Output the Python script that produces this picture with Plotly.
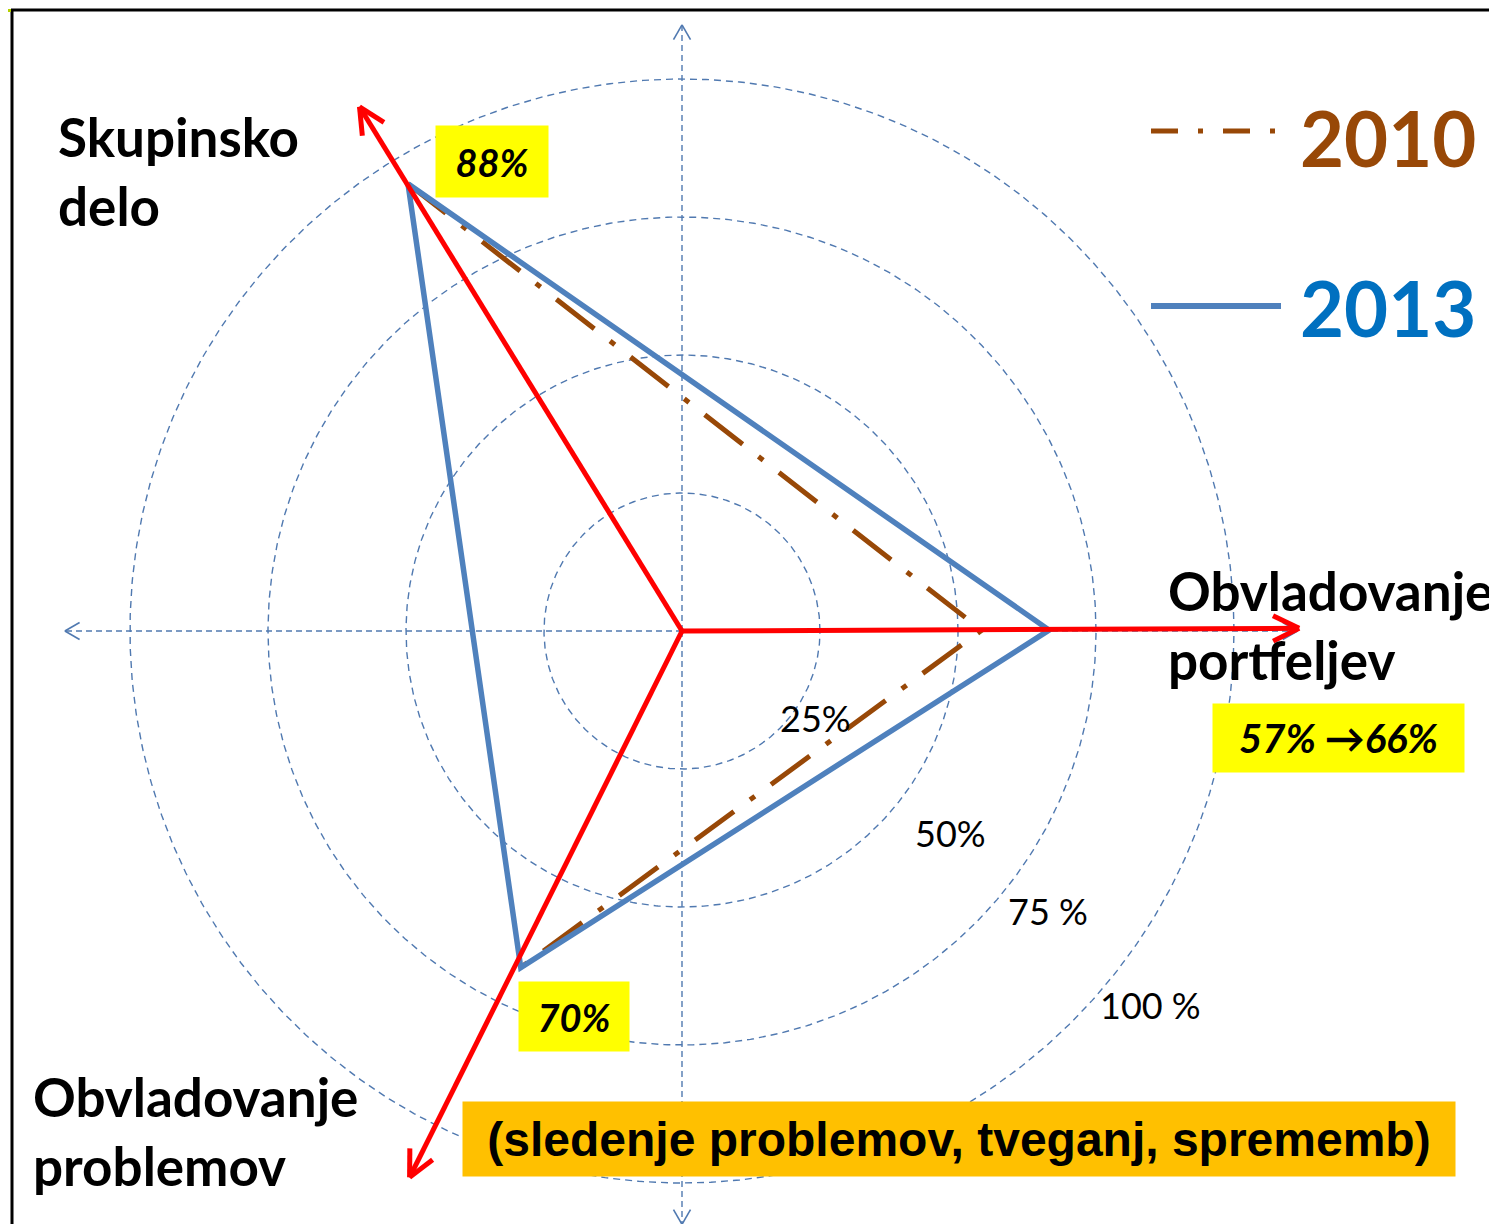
import numpy as np
import plotly.graph_objects as go

W, H = 1497, 1224          # target page size
OFF = 8                    # default page body margin
WF, HF = W - OFF, H - OFF  # figure size
CX, CY = 682, 631          # page pixel position of the chart centre
R100 = 552                 # pixels for 100 %

# ---------------- data ----------------
categories = ["Skupinsko delo", "Obvladovanje portfeljev", "Obvladovanje problemov"]
axis_theta = [121.6, 0.25, 243.5]      # direction of the red axis arrows (deg)
axis_len = [111.5, 111.8, 110.6]       # length of red axis arrows (%)
point_theta = [121.5, 0.15, 244.4]     # angular position of the data vertices (deg)
val_2010 = [95.0, 54.3, 67.6]
val_2013 = [95.0, 66.5, 67.6]
ring_values = [25, 50, 75, 100]
ring_labels = ["25%", "50%", "75 %", "100 %"]
ring_label_px = [(816, 718), (950, 833), (1048, 911), (1150, 1005)]
box_labels = ["88%", "57% \u219266%", "70%"]

BLUE = "#4f81bd"
BROWN = "#984807"
RED = "#ff0000"
GRID = "#5079b0"


def pol(r, th):
    r = np.asarray(r, float) / 100.0
    th = np.radians(np.asarray(th, float))
    return r * np.cos(th), r * np.sin(th)


def px(x):
    return (x - OFF) / WF


def py(y):
    return 1 - (y - OFF) / HF


fig = go.Figure()

# dashed rings
t = np.linspace(0, 360, 721)
for rv in ring_values:
    x, y = pol(np.full_like(t, rv), t)
    fig.add_trace(go.Scatter(x=x, y=y, mode="lines",
                             line=dict(color=GRID, width=1.4, dash="7px,5px"),
                             hoverinfo="skip", showlegend=False))

# dashed blue axes with thin open arrowheads
ax_dirs = [90, 180, 270, 0]
ax_lens = [109.8, 111.8, 107.5, 111.5]
for d, L in zip(ax_dirs, ax_lens):
    x, y = pol([0, L], [d, d])
    fig.add_trace(go.Scatter(x=x, y=y, mode="lines",
                             line=dict(color=GRID, width=1.4, dash="6px,4px"),
                             hoverinfo="skip", showlegend=False))
    tipx, tipy = x[1], y[1]
    arm = 17 / R100
    hx, hy = [], []
    for s in (-30, 30):
        a = np.radians(d + 180 + s)
        hx += [tipx + arm * np.cos(a), tipx, None]
        hy += [tipy + arm * np.sin(a), tipy, None]
    fig.add_trace(go.Scatter(x=hx, y=hy, mode="lines",
                             line=dict(color=GRID, width=1.6),
                             hoverinfo="skip", showlegend=False))

# 2010 series (dash-dot)
x10, y10 = pol(val_2010, point_theta)
fig.add_trace(go.Scatter(x=x10, y=y10, mode="lines", name="2010",
                         line=dict(color=BROWN, width=5, dash="48px,20px,6px,20px"),
                         showlegend=False))

# 2013 series (solid, closed)
x13, y13 = pol(val_2013 + val_2013[:1], point_theta + point_theta[:1])
fig.add_trace(go.Scatter(x=x13, y=y13, mode="lines", name="2013",
                         line=dict(color=BLUE, width=5.5), showlegend=False))

# red axis arrows
for th, L in zip(axis_theta, axis_len):
    x, y = pol([0, L], [th, th])
    tipx, tipy = x[1], y[1]
    arm = 29 / R100
    hx, hy = [0, tipx, None], [0, tipy, None]
    for s in (-26, 26):
        a = np.radians(th + 180 + s)
        hx += [tipx + arm * np.cos(a), tipx, None]
        hy += [tipy + arm * np.sin(a), tipy, None]
    fig.add_trace(go.Scatter(x=hx, y=hy, mode="lines",
                             line=dict(color=RED, width=5),
                             hoverinfo="skip", showlegend=False))

annotations = []

# ring labels
for lab, (lx, ly) in zip(ring_labels, ring_label_px):
    annotations.append(dict(x=px(lx), y=py(ly), xref="paper", yref="paper",
                            text=lab, showarrow=False, xanchor="center", yanchor="middle",
                            font=dict(family="Lato", size=36, color="black")))

# category labels
cat_pos = [(56, 103), (1166, 557), (31, 1063)]
cat_text = ["Skupinsko<br>delo", "Obvladovanje<br>portfeljev", "Obvladovanje<br>problemov"]
for txt, (lx, ly) in zip(cat_text, cat_pos):
    annotations.append(dict(x=px(lx), y=py(ly), xref="paper", yref="paper",
                            text="<b>%s</b>" % txt, showarrow=False, align="left",
                            xanchor="left", yanchor="top",
                            font=dict(family="Lato", size=53, color="black")))

# yellow value boxes
boxes = [(436, 126, 548, 197), (1213, 704, 1464, 772), (519, 982, 629, 1051)]
box_sizes = [38, 40, 38]
for lab, (x0, y0, x1, y1), fs in zip(box_labels, boxes, box_sizes):
    annotations.append(dict(x=px((x0 + x1) / 2), y=py((y0 + y1) / 2), xref="paper", yref="paper",
                            text="<b><i>%s</i></b>" % lab, showarrow=False,
                            xanchor="center", yanchor="middle",
                            width=x1 - x0, height=y1 - y0, borderpad=0,
                            bgcolor="#ffff00",
                            font=dict(family="Lato", size=fs, color="black")))

# orange note box
annotations.append(dict(x=px((463 + 1455) / 2), y=py((1102 + 1176) / 2), xref="paper", yref="paper",
                        text="<b>(sledenje problemov, tveganj, sprememb)</b>", showarrow=False,
                        xanchor="center", yanchor="middle", width=992, height=74, borderpad=0,
                        bgcolor="#ffc000",
                        font=dict(family="Liberation Sans", size=48, color="black")))

# legend texts
annotations.append(dict(x=px(1388), y=py(137), xref="paper", yref="paper",
                        text="<b>2010</b>", showarrow=False, xanchor="center", yanchor="middle",
                        font=dict(family="Lato", size=76, color=BROWN)))
annotations.append(dict(x=px(1388), y=py(307), xref="paper", yref="paper",
                        text="<b>2013</b>", showarrow=False, xanchor="center", yanchor="middle",
                        font=dict(family="Lato", size=76, color="#0070c0")))

shapes = [
    # legend lines
    dict(type="line", xref="paper", yref="paper", x0=px(1151), x1=px(1281), y0=py(131), y1=py(131),
         line=dict(color=BROWN, width=5, dash="27px,20px,5px,20px")),
    dict(type="line", xref="paper", yref="paper", x0=px(1151), x1=px(1281), y0=py(306), y1=py(306),
         line=dict(color=BLUE, width=6)),
    # frame
    dict(type="line", xref="paper", yref="paper", x0=px(11), x1=1, y0=py(10), y1=py(10),
         line=dict(color="black", width=3)),
    dict(type="line", xref="paper", yref="paper", x0=px(12), x1=px(12), y0=py(9), y1=0,
         line=dict(color="black", width=3)),
    dict(type="line", xref="paper", yref="paper", x0=0, x1=px(11), y0=py(10.5), y1=py(10.5),
         line=dict(color="#b5d000", width=3)),
]

fig.update_layout(
    width=WF, height=HF,
    margin=dict(l=0, r=0, t=0, b=0),
    paper_bgcolor="white", plot_bgcolor="white",
    xaxis=dict(range=[-(CX - OFF) / R100, (WF - (CX - OFF)) / R100], visible=False, fixedrange=True),
    yaxis=dict(range=[-(HF - (CY - OFF)) / R100, (CY - OFF) / R100], visible=False, fixedrange=True),
    annotations=annotations, shapes=shapes, showlegend=False,
)

fig.write_html("out.html")
